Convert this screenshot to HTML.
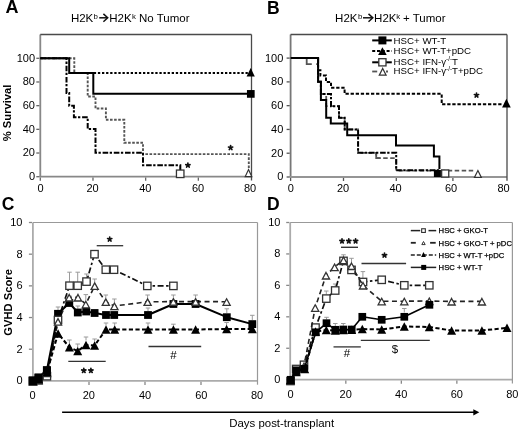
<!DOCTYPE html>
<html><head><meta charset="utf-8"><style>
html,body{margin:0;padding:0;background:#fff;width:520px;height:433px;overflow:hidden;}
svg text{font-family:"Liberation Sans", sans-serif;}
</style></head><body>
<svg width="520" height="433" viewBox="0 0 520 433" style="position:absolute;left:0;top:0;filter:grayscale(1)">
<rect width="520" height="433" fill="#fff"/>
<text x="5.60" y="12.80" font-size="18" font-weight="bold" text-anchor="start" fill="#000" >A</text>
<text x="267.00" y="14.20" font-size="17.5" font-weight="bold" text-anchor="start" fill="#000" >B</text>
<text x="1.70" y="209.80" font-size="17.5" font-weight="bold" text-anchor="start" fill="#000" >C</text>
<text x="267.00" y="210.20" font-size="17.5" font-weight="bold" text-anchor="start" fill="#000" >D</text>
<line x1="40.30" y1="34.50" x2="40.30" y2="176.70" stroke="#888" stroke-width="1.8"/>
<line x1="39.40" y1="176.70" x2="251.50" y2="176.70" stroke="#888" stroke-width="1.8"/>
<line x1="40.30" y1="34.50" x2="251.50" y2="34.50" stroke="#4a4a4a" stroke-width="1.3"/>
<line x1="251.50" y1="34.50" x2="251.50" y2="180.50" stroke="#4a4a4a" stroke-width="1.3"/>
<line x1="36.30" y1="176.70" x2="39.40" y2="176.70" stroke="#666" stroke-width="1.3"/>
<line x1="36.30" y1="153.02" x2="39.40" y2="153.02" stroke="#666" stroke-width="1.3"/>
<line x1="36.30" y1="129.34" x2="39.40" y2="129.34" stroke="#666" stroke-width="1.3"/>
<line x1="36.30" y1="105.66" x2="39.40" y2="105.66" stroke="#666" stroke-width="1.3"/>
<line x1="36.30" y1="81.98" x2="39.40" y2="81.98" stroke="#666" stroke-width="1.3"/>
<line x1="36.30" y1="58.30" x2="39.40" y2="58.30" stroke="#666" stroke-width="1.3"/>
<line x1="40.30" y1="177.60" x2="40.30" y2="180.70" stroke="#666" stroke-width="1.3"/>
<line x1="92.98" y1="177.60" x2="92.98" y2="180.70" stroke="#666" stroke-width="1.3"/>
<line x1="145.66" y1="177.60" x2="145.66" y2="180.70" stroke="#666" stroke-width="1.3"/>
<line x1="198.34" y1="177.60" x2="198.34" y2="180.70" stroke="#666" stroke-width="1.3"/>
<text x="40.50" y="191.80" font-size="11" font-weight="normal" text-anchor="middle" fill="#000" >0</text>
<text x="92.60" y="191.80" font-size="11" font-weight="normal" text-anchor="middle" fill="#000" >20</text>
<text x="145.30" y="191.80" font-size="11" font-weight="normal" text-anchor="middle" fill="#000" >40</text>
<text x="198.00" y="191.80" font-size="11" font-weight="normal" text-anchor="middle" fill="#000" >60</text>
<text x="250.00" y="191.80" font-size="11" font-weight="normal" text-anchor="middle" fill="#000" >80</text>
<text x="35.00" y="180.10" font-size="11" font-weight="normal" text-anchor="end" fill="#000" >0</text>
<text x="35.00" y="156.42" font-size="11" font-weight="normal" text-anchor="end" fill="#000" >20</text>
<text x="35.00" y="132.74" font-size="11" font-weight="normal" text-anchor="end" fill="#000" >40</text>
<text x="35.00" y="109.06" font-size="11" font-weight="normal" text-anchor="end" fill="#000" >60</text>
<text x="35.00" y="85.38" font-size="11" font-weight="normal" text-anchor="end" fill="#000" >80</text>
<text x="35.00" y="61.70" font-size="11" font-weight="normal" text-anchor="end" fill="#000" >100</text>
<path d="M40.3,58.3 H74.3 V73.1 H87.7 V96.5 H95.5 V108.5 H105.9 V119.8 H124.3 V142.7 H143 V154.1 H248.8 V168.5" fill="none" stroke="#555" stroke-width="1.9" stroke-dasharray="2.6 1.5" />
<path d="M40.3,58.3 H66.5 V93.1 H69.2 V105.8 H73.9 V117.3 H87.7 V128.9 H95.5 V152.8 H143 V165.3 H180.3 V170" fill="none" stroke="#000" stroke-width="2" stroke-dasharray="5.6 1.5 2.3 1.8" />
<path d="M69.2,73.1 H250" fill="none" stroke="#000" stroke-width="2" stroke-dasharray="2.3 1.8" />
<path d="M40.3,58.3 H69.2 V73.1 H93.3 V93.8 H250" fill="none" stroke="#000" stroke-width="2" />
<rect x="246.95" y="90.05" width="7.7" height="7.7" fill="#000"/>
<path d="M250.70,67.90 L254.80,76.50 L246.60,76.50 Z" fill="#000"/>
<rect x="176.45" y="170.05" width="7.50" height="7.50" fill="#fff" stroke="#333" stroke-width="1.3"/>
<path d="M248.50,169.60 L251.76,176.60 L245.24,176.60 Z" fill="#fff" stroke="#333" stroke-width="1.2" stroke-linejoin="miter"/>
<path d="M187.90,165.30 L187.90,163.10 M187.90,165.30 L189.99,164.62 M187.90,165.30 L189.19,167.08 M187.90,165.30 L186.61,167.08 M187.90,165.30 L185.81,164.62 " stroke="#111" stroke-width="1.7" stroke-linecap="round" fill="none"/>
<path d="M230.60,147.70 L230.60,145.50 M230.60,147.70 L232.69,147.02 M230.60,147.70 L231.89,149.48 M230.60,147.70 L229.31,149.48 M230.60,147.70 L228.51,147.02 " stroke="#111" stroke-width="1.7" stroke-linecap="round" fill="none"/>
<text x="70.90" y="21.60" font-size="11.5" font-weight="normal" text-anchor="start" fill="#000" >H2K</text>
<text x="93.50" y="18.90" font-size="7.8" font-weight="normal" text-anchor="start" fill="#000" >b</text>
<line x1="99.20" y1="17.80" x2="107.10" y2="17.80" stroke="#111" stroke-width="1.5"/>
<path d="M103.40,13.90 L107.70,17.80 L103.40,21.70" fill="none" stroke="#111" stroke-width="1.5" stroke-linejoin="miter"/>
<text x="109.30" y="21.60" font-size="11.5" font-weight="normal" text-anchor="start" fill="#000" >H2K</text>
<text x="131.90" y="18.90" font-size="7.8" font-weight="normal" text-anchor="start" fill="#000" >k</text>
<text x="139.00" y="21.60" font-size="11.5" font-weight="normal" text-anchor="start" fill="#000" >No Tumor</text>
<line x1="290.60" y1="34.50" x2="290.60" y2="177.00" stroke="#777" stroke-width="1.8"/>
<line x1="289.70" y1="177.00" x2="507.00" y2="177.00" stroke="#959595" stroke-width="1.8"/>
<line x1="290.60" y1="34.50" x2="507.00" y2="34.50" stroke="#4a4a4a" stroke-width="1.3"/>
<line x1="507.00" y1="34.50" x2="507.00" y2="180.80" stroke="#4a4a4a" stroke-width="1.3"/>
<line x1="286.60" y1="177.00" x2="289.70" y2="177.00" stroke="#555" stroke-width="1.3"/>
<line x1="286.60" y1="153.22" x2="289.70" y2="153.22" stroke="#555" stroke-width="1.3"/>
<line x1="286.60" y1="129.44" x2="289.70" y2="129.44" stroke="#555" stroke-width="1.3"/>
<line x1="286.60" y1="105.66" x2="289.70" y2="105.66" stroke="#555" stroke-width="1.3"/>
<line x1="286.60" y1="81.88" x2="289.70" y2="81.88" stroke="#555" stroke-width="1.3"/>
<line x1="286.60" y1="58.10" x2="289.70" y2="58.10" stroke="#555" stroke-width="1.3"/>
<line x1="290.60" y1="177.90" x2="290.60" y2="181.00" stroke="#555" stroke-width="1.3"/>
<line x1="343.50" y1="177.90" x2="343.50" y2="181.00" stroke="#555" stroke-width="1.3"/>
<line x1="396.30" y1="177.90" x2="396.30" y2="181.00" stroke="#555" stroke-width="1.3"/>
<line x1="452.90" y1="177.90" x2="452.90" y2="181.00" stroke="#555" stroke-width="1.3"/>
<text x="290.70" y="192.00" font-size="11" font-weight="normal" text-anchor="middle" fill="#000" >0</text>
<text x="343.00" y="192.00" font-size="11" font-weight="normal" text-anchor="middle" fill="#000" >20</text>
<text x="395.50" y="192.00" font-size="11" font-weight="normal" text-anchor="middle" fill="#000" >40</text>
<text x="451.10" y="192.00" font-size="11" font-weight="normal" text-anchor="middle" fill="#000" >60</text>
<text x="503.60" y="192.00" font-size="11" font-weight="normal" text-anchor="middle" fill="#000" >80</text>
<text x="283.30" y="180.40" font-size="11" font-weight="normal" text-anchor="end" fill="#000" >0</text>
<text x="283.30" y="156.62" font-size="11" font-weight="normal" text-anchor="end" fill="#000" >20</text>
<text x="283.30" y="132.84" font-size="11" font-weight="normal" text-anchor="end" fill="#000" >40</text>
<text x="283.30" y="109.06" font-size="11" font-weight="normal" text-anchor="end" fill="#000" >60</text>
<text x="283.30" y="85.28" font-size="11" font-weight="normal" text-anchor="end" fill="#000" >80</text>
<text x="283.30" y="61.50" font-size="11" font-weight="normal" text-anchor="end" fill="#000" >100</text>
<path d="M306.7,58 V64.1 H311.8" fill="none" stroke="#555" stroke-width="1.8" />
<path d="M376.2,153.5 V158.1 H380.5" fill="none" stroke="#555" stroke-width="1.8" />
<path d="M316.2,64.1 H318.1 V81.8 H320.9 V94 H326.2 V106.2 H339 V117.8 H344.7 V129.4 H358.1 V152.8 H376.2 V158.1 H396.2 V170.6 H473.8" fill="none" stroke="#555" stroke-width="1.8" stroke-dasharray="4.5 2.5" />
<path d="M318.1,58 V81.8 H320.9 V94 H331 V106.2 H339 V117.8 H344.7 V129.4 H358.1 V152.8 H396.2 V170.3 H441" fill="none" stroke="#000" stroke-width="2" stroke-dasharray="5.6 1.5 2.3 1.8" />
<path d="M318.1,70.2 H320.4 V75.6 H326 V81.9 H331 V87.8 H344.6 V93.8 H441.7 V104.3 H503" fill="none" stroke="#000" stroke-width="2" stroke-dasharray="3.3 1.8" />
<path d="M290.6,58 H318.1 V81.8 H320.9 V100 H326.2 V117.7 H330.8 V123.6 H347.2 V135.3 H396 V145.5 H433.9 V156.5 H439.4 V169" fill="none" stroke="#000" stroke-width="2" />
<rect x="433.90" y="170.00" width="7.0" height="7.0" fill="#000"/>
<rect x="441.65" y="169.95" width="7.10" height="7.10" fill="#fff" stroke="#333" stroke-width="1.3"/>
<path d="M477.90,170.55 L481.36,177.45 L474.44,177.45 Z" fill="#fff" stroke="#333" stroke-width="1.2" stroke-linejoin="miter"/>
<path d="M506.40,98.80 L510.75,107.40 L502.05,107.40 Z" fill="#000"/>
<path d="M476.50,95.20 L476.50,93.00 M476.50,95.20 L478.59,94.52 M476.50,95.20 L477.79,96.98 M476.50,95.20 L475.21,96.98 M476.50,95.20 L474.41,94.52 " stroke="#111" stroke-width="1.7" stroke-linecap="round" fill="none"/>
<text x="335.10" y="21.60" font-size="11.5" font-weight="normal" text-anchor="start" fill="#000" >H2K</text>
<text x="357.90" y="18.90" font-size="7.8" font-weight="normal" text-anchor="start" fill="#000" >b</text>
<line x1="363.00" y1="17.80" x2="372.20" y2="17.80" stroke="#111" stroke-width="1.5"/>
<path d="M368.50,13.90 L372.80,17.80 L368.50,21.70" fill="none" stroke="#111" stroke-width="1.5" stroke-linejoin="miter"/>
<text x="374.10" y="21.60" font-size="11.5" font-weight="normal" text-anchor="start" fill="#000" >H2K</text>
<text x="396.20" y="18.90" font-size="7.8" font-weight="normal" text-anchor="start" fill="#000" >k</text>
<text x="403.00" y="21.60" font-size="11.5" font-weight="normal" text-anchor="start" fill="#000" >+ Tumor</text>
<line x1="372.20" y1="40.40" x2="391.80" y2="40.40" stroke="#000" stroke-width="2"/>
<rect x="378.40" y="36.40" width="8.0" height="8.0" fill="#000"/>
<line x1="372.20" y1="51.10" x2="391.80" y2="51.10" stroke="#000" stroke-width="2" stroke-dasharray="3 1.8"/>
<path d="M382.40,47.30 L386.70,54.90 L378.10,54.90 Z" fill="#000"/>
<line x1="372.20" y1="62.30" x2="391.80" y2="62.30" stroke="#000" stroke-width="2"/>
<rect x="378.80" y="58.70" width="7.20" height="7.20" fill="#fff" stroke="#333" stroke-width="1.3"/>
<line x1="372.20" y1="71.50" x2="377.20" y2="71.50" stroke="#555" stroke-width="1.8"/>
<line x1="386.00" y1="71.50" x2="388.00" y2="71.50" stroke="#555" stroke-width="1.8"/>
<path d="M382.70,68.40 L386.11,75.20 L379.29,75.20 Z" fill="#fff" stroke="#333" stroke-width="1.2" stroke-linejoin="miter"/>
<text x="393.60" y="43.80" font-size="9.7" font-weight="normal" text-anchor="start" fill="#000" >HSC+ WT-T</text>
<text x="393.60" y="53.80" font-size="9.7" font-weight="normal" text-anchor="start" fill="#000" >HSC+ WT-T+pDC</text>
<text x="393.60" y="64.60" font-size="9.7" font-weight="normal" text-anchor="start" fill="#000" >HSC+ IFN-γ<tspan font-size="6.3" dy="-3.2">-/-</tspan><tspan dy="3.2">T</tspan></text>
<text x="393.60" y="74.40" font-size="9.7" font-weight="normal" text-anchor="start" fill="#000" >HSC+ IFN-γ<tspan font-size="6.3" dy="-3.2">-/-</tspan><tspan dy="3.2">T+pDC</tspan></text>
<line x1="32.90" y1="222.50" x2="32.90" y2="380.90" stroke="#ababab" stroke-width="1.8"/>
<line x1="32.00" y1="380.90" x2="257.50" y2="380.90" stroke="#ababab" stroke-width="1.8"/>
<line x1="32.90" y1="222.50" x2="257.50" y2="222.50" stroke="#999" stroke-width="1.2"/>
<line x1="257.50" y1="222.50" x2="257.50" y2="384.70" stroke="#999" stroke-width="1.2"/>
<line x1="28.90" y1="380.90" x2="32.00" y2="380.90" stroke="#888" stroke-width="1.3"/>
<line x1="28.90" y1="349.22" x2="32.00" y2="349.22" stroke="#888" stroke-width="1.3"/>
<line x1="28.90" y1="317.54" x2="32.00" y2="317.54" stroke="#888" stroke-width="1.3"/>
<line x1="28.90" y1="285.86" x2="32.00" y2="285.86" stroke="#888" stroke-width="1.3"/>
<line x1="28.90" y1="254.18" x2="32.00" y2="254.18" stroke="#888" stroke-width="1.3"/>
<line x1="28.90" y1="222.50" x2="32.00" y2="222.50" stroke="#888" stroke-width="1.3"/>
<line x1="33.00" y1="381.80" x2="33.00" y2="384.90" stroke="#888" stroke-width="1.3"/>
<line x1="89.00" y1="381.80" x2="89.00" y2="384.90" stroke="#888" stroke-width="1.3"/>
<line x1="145.00" y1="381.80" x2="145.00" y2="384.90" stroke="#888" stroke-width="1.3"/>
<line x1="201.00" y1="381.80" x2="201.00" y2="384.90" stroke="#888" stroke-width="1.3"/>
<text x="32.50" y="398.60" font-size="11" font-weight="normal" text-anchor="middle" fill="#000" >0</text>
<text x="88.80" y="398.60" font-size="11" font-weight="normal" text-anchor="middle" fill="#000" >20</text>
<text x="145.00" y="398.60" font-size="11" font-weight="normal" text-anchor="middle" fill="#000" >40</text>
<text x="201.30" y="398.60" font-size="11" font-weight="normal" text-anchor="middle" fill="#000" >60</text>
<text x="257.00" y="398.60" font-size="11" font-weight="normal" text-anchor="middle" fill="#000" >80</text>
<text x="22.50" y="384.30" font-size="11" font-weight="normal" text-anchor="end" fill="#000" >0</text>
<text x="22.50" y="352.62" font-size="11" font-weight="normal" text-anchor="end" fill="#000" >2</text>
<text x="22.50" y="320.94" font-size="11" font-weight="normal" text-anchor="end" fill="#000" >4</text>
<text x="22.50" y="289.26" font-size="11" font-weight="normal" text-anchor="end" fill="#000" >6</text>
<text x="22.50" y="257.58" font-size="11" font-weight="normal" text-anchor="end" fill="#000" >8</text>
<text x="22.50" y="225.90" font-size="11" font-weight="normal" text-anchor="end" fill="#000" >10</text>
<line x1="69.50" y1="282.00" x2="69.50" y2="272.20" stroke="#9a9a9a" stroke-width="1"/>
<line x1="67.25" y1="272.20" x2="71.75" y2="272.20" stroke="#9a9a9a" stroke-width="1"/>
<line x1="77.70" y1="282.00" x2="77.70" y2="272.20" stroke="#9a9a9a" stroke-width="1"/>
<line x1="75.45" y1="272.20" x2="79.95" y2="272.20" stroke="#9a9a9a" stroke-width="1"/>
<line x1="86.50" y1="278.00" x2="86.50" y2="274.00" stroke="#9a9a9a" stroke-width="1"/>
<line x1="84.25" y1="274.00" x2="88.75" y2="274.00" stroke="#9a9a9a" stroke-width="1"/>
<line x1="85.80" y1="300.50" x2="85.80" y2="294.60" stroke="#9a9a9a" stroke-width="1"/>
<line x1="83.55" y1="294.60" x2="88.05" y2="294.60" stroke="#9a9a9a" stroke-width="1"/>
<line x1="94.70" y1="282.00" x2="94.70" y2="279.00" stroke="#9a9a9a" stroke-width="1"/>
<line x1="92.45" y1="279.00" x2="96.95" y2="279.00" stroke="#9a9a9a" stroke-width="1"/>
<line x1="105.80" y1="298.00" x2="105.80" y2="295.00" stroke="#9a9a9a" stroke-width="1"/>
<line x1="103.55" y1="295.00" x2="108.05" y2="295.00" stroke="#9a9a9a" stroke-width="1"/>
<line x1="114.40" y1="302.00" x2="114.40" y2="299.00" stroke="#9a9a9a" stroke-width="1"/>
<line x1="112.15" y1="299.00" x2="116.65" y2="299.00" stroke="#9a9a9a" stroke-width="1"/>
<line x1="147.60" y1="298.00" x2="147.60" y2="295.00" stroke="#9a9a9a" stroke-width="1"/>
<line x1="145.35" y1="295.00" x2="149.85" y2="295.00" stroke="#9a9a9a" stroke-width="1"/>
<line x1="173.40" y1="297.50" x2="173.40" y2="295.00" stroke="#9a9a9a" stroke-width="1"/>
<line x1="171.15" y1="295.00" x2="175.65" y2="295.00" stroke="#9a9a9a" stroke-width="1"/>
<line x1="195.60" y1="297.50" x2="195.60" y2="295.00" stroke="#9a9a9a" stroke-width="1"/>
<line x1="193.35" y1="295.00" x2="197.85" y2="295.00" stroke="#9a9a9a" stroke-width="1"/>
<line x1="226.80" y1="313.00" x2="226.80" y2="308.80" stroke="#9a9a9a" stroke-width="1"/>
<line x1="224.55" y1="308.80" x2="229.05" y2="308.80" stroke="#9a9a9a" stroke-width="1"/>
<line x1="252.30" y1="320.00" x2="252.30" y2="315.30" stroke="#9a9a9a" stroke-width="1"/>
<line x1="250.05" y1="315.30" x2="254.55" y2="315.30" stroke="#9a9a9a" stroke-width="1"/>
<line x1="226.60" y1="325.00" x2="226.60" y2="322.50" stroke="#9a9a9a" stroke-width="1"/>
<line x1="224.35" y1="322.50" x2="228.85" y2="322.50" stroke="#9a9a9a" stroke-width="1"/>
<line x1="173.40" y1="325.40" x2="173.40" y2="324.20" stroke="#9a9a9a" stroke-width="1"/>
<line x1="171.15" y1="324.20" x2="175.65" y2="324.20" stroke="#9a9a9a" stroke-width="1"/>
<line x1="148.00" y1="325.40" x2="148.00" y2="323.00" stroke="#9a9a9a" stroke-width="1"/>
<line x1="145.75" y1="323.00" x2="150.25" y2="323.00" stroke="#9a9a9a" stroke-width="1"/>
<line x1="106.00" y1="325.50" x2="106.00" y2="323.00" stroke="#9a9a9a" stroke-width="1"/>
<line x1="103.75" y1="323.00" x2="108.25" y2="323.00" stroke="#9a9a9a" stroke-width="1"/>
<line x1="114.70" y1="325.50" x2="114.70" y2="323.00" stroke="#9a9a9a" stroke-width="1"/>
<line x1="112.45" y1="323.00" x2="116.95" y2="323.00" stroke="#9a9a9a" stroke-width="1"/>
<line x1="69.40" y1="343.00" x2="69.40" y2="340.00" stroke="#9a9a9a" stroke-width="1"/>
<line x1="67.15" y1="340.00" x2="71.65" y2="340.00" stroke="#9a9a9a" stroke-width="1"/>
<line x1="77.70" y1="347.00" x2="77.70" y2="344.00" stroke="#9a9a9a" stroke-width="1"/>
<line x1="75.45" y1="344.00" x2="79.95" y2="344.00" stroke="#9a9a9a" stroke-width="1"/>
<line x1="86.00" y1="340.50" x2="86.00" y2="337.00" stroke="#9a9a9a" stroke-width="1"/>
<line x1="83.75" y1="337.00" x2="88.25" y2="337.00" stroke="#9a9a9a" stroke-width="1"/>
<line x1="94.60" y1="341.50" x2="94.60" y2="339.00" stroke="#9a9a9a" stroke-width="1"/>
<line x1="92.35" y1="339.00" x2="96.85" y2="339.00" stroke="#9a9a9a" stroke-width="1"/>
<line x1="58.00" y1="310.00" x2="58.00" y2="307.00" stroke="#9a9a9a" stroke-width="1"/>
<line x1="55.75" y1="307.00" x2="60.25" y2="307.00" stroke="#9a9a9a" stroke-width="1"/>
<line x1="148.00" y1="311.00" x2="148.00" y2="308.00" stroke="#9a9a9a" stroke-width="1"/>
<line x1="145.75" y1="308.00" x2="150.25" y2="308.00" stroke="#9a9a9a" stroke-width="1"/>
<line x1="77.80" y1="308.70" x2="77.80" y2="306.00" stroke="#9a9a9a" stroke-width="1"/>
<line x1="75.55" y1="306.00" x2="80.05" y2="306.00" stroke="#9a9a9a" stroke-width="1"/>
<line x1="69.30" y1="299.20" x2="69.30" y2="296.00" stroke="#9a9a9a" stroke-width="1"/>
<line x1="67.05" y1="296.00" x2="71.55" y2="296.00" stroke="#9a9a9a" stroke-width="1"/>
<path d="M33.0,381.5 L38.6,380.0 L47.0,373.0 L58.0,321.6 L69.2,297.4 L78.0,297.4 L85.8,304.2 L94.7,285.8 L105.8,301.8 L114.4,306.0 L147.6,301.8 L173.4,301.6 L195.6,301.6 L226.6,301.7" fill="none" stroke="#222" stroke-width="1.6" stroke-dasharray="5 3.5" stroke-linejoin="round"/>
<path d="M33.0,381.0 L38.6,380.3 L46.9,376.2 L58.0,320.0 L69.5,285.7 L77.7,285.7 L86.5,281.6 L94.5,254.2 L105.8,269.7 L114.0,269.7 L147.3,285.9 L173.4,285.9" fill="none" stroke="#111" stroke-width="1.7" stroke-dasharray="6 2.5 2.5 2.5" stroke-linejoin="round"/>
<path d="M33.0,381.0 L38.6,379.0 L47.0,372.0 L58.1,333.5 L69.4,347.3 L77.7,351.0 L86.0,345.0 L94.6,345.5 L106.0,329.5 L114.7,329.5 L148.0,329.5 L173.4,329.5 L195.6,329.5 L226.6,329.0 L252.3,329.0" fill="none" stroke="#000" stroke-width="2" stroke-dasharray="4.2 2.4" stroke-linejoin="round"/>
<path d="M32.7,380.6 L38.5,377.6 L46.9,370.3 L58.0,313.8 L69.3,303.0 L77.8,312.5 L86.2,311.5 L94.6,313.0 L106.0,315.0 L114.2,315.0 L148.0,315.0 L173.4,304.0 L195.6,304.0 L226.8,317.2 L252.3,324.1" fill="none" stroke="#000" stroke-width="2" stroke-linejoin="round"/>
<rect x="28.80" y="376.70" width="7.8" height="7.8" fill="#000"/>
<rect x="34.60" y="373.70" width="7.8" height="7.8" fill="#000"/>
<rect x="43.00" y="366.40" width="7.8" height="7.8" fill="#000"/>
<rect x="54.10" y="309.90" width="7.8" height="7.8" fill="#000"/>
<rect x="65.40" y="299.10" width="7.8" height="7.8" fill="#000"/>
<rect x="73.90" y="308.60" width="7.8" height="7.8" fill="#000"/>
<rect x="82.30" y="307.60" width="7.8" height="7.8" fill="#000"/>
<rect x="90.70" y="309.10" width="7.8" height="7.8" fill="#000"/>
<rect x="102.10" y="311.10" width="7.8" height="7.8" fill="#000"/>
<rect x="110.30" y="311.10" width="7.8" height="7.8" fill="#000"/>
<rect x="144.10" y="311.10" width="7.8" height="7.8" fill="#000"/>
<rect x="169.50" y="300.10" width="7.8" height="7.8" fill="#000"/>
<rect x="191.70" y="300.10" width="7.8" height="7.8" fill="#000"/>
<rect x="222.90" y="313.30" width="7.8" height="7.8" fill="#000"/>
<rect x="248.40" y="320.20" width="7.8" height="7.8" fill="#000"/>
<rect x="29.30" y="377.30" width="7.40" height="7.40" fill="#fff" stroke="#333" stroke-width="1.3"/>
<rect x="34.90" y="376.60" width="7.40" height="7.40" fill="#fff" stroke="#333" stroke-width="1.3"/>
<rect x="43.20" y="372.50" width="7.40" height="7.40" fill="#fff" stroke="#333" stroke-width="1.3"/>
<rect x="54.30" y="316.30" width="7.40" height="7.40" fill="#fff" stroke="#333" stroke-width="1.3"/>
<rect x="65.80" y="282.00" width="7.40" height="7.40" fill="#fff" stroke="#333" stroke-width="1.3"/>
<rect x="74.00" y="282.00" width="7.40" height="7.40" fill="#fff" stroke="#333" stroke-width="1.3"/>
<rect x="82.80" y="277.90" width="7.40" height="7.40" fill="#fff" stroke="#333" stroke-width="1.3"/>
<rect x="90.80" y="250.50" width="7.40" height="7.40" fill="#fff" stroke="#333" stroke-width="1.3"/>
<rect x="102.10" y="266.00" width="7.40" height="7.40" fill="#fff" stroke="#333" stroke-width="1.3"/>
<rect x="110.30" y="266.00" width="7.40" height="7.40" fill="#fff" stroke="#333" stroke-width="1.3"/>
<rect x="143.60" y="282.20" width="7.40" height="7.40" fill="#fff" stroke="#333" stroke-width="1.3"/>
<rect x="169.70" y="282.20" width="7.40" height="7.40" fill="#fff" stroke="#333" stroke-width="1.3"/>
<path d="M33.00,378.55 L36.59,385.10 L29.41,385.10 Z" fill="#fff" stroke="#333" stroke-width="1.3" stroke-linejoin="miter"/>
<path d="M38.60,377.05 L42.19,383.60 L35.01,383.60 Z" fill="#fff" stroke="#333" stroke-width="1.3" stroke-linejoin="miter"/>
<path d="M47.00,370.05 L50.59,376.60 L43.41,376.60 Z" fill="#fff" stroke="#333" stroke-width="1.3" stroke-linejoin="miter"/>
<path d="M58.00,318.65 L61.59,325.20 L54.41,325.20 Z" fill="#fff" stroke="#333" stroke-width="1.3" stroke-linejoin="miter"/>
<path d="M69.20,294.45 L72.79,301.00 L65.61,301.00 Z" fill="#fff" stroke="#333" stroke-width="1.3" stroke-linejoin="miter"/>
<path d="M78.00,294.45 L81.59,301.00 L74.41,301.00 Z" fill="#fff" stroke="#333" stroke-width="1.3" stroke-linejoin="miter"/>
<path d="M85.80,301.25 L89.39,307.80 L82.21,307.80 Z" fill="#fff" stroke="#333" stroke-width="1.3" stroke-linejoin="miter"/>
<path d="M94.70,282.85 L98.29,289.40 L91.11,289.40 Z" fill="#fff" stroke="#333" stroke-width="1.3" stroke-linejoin="miter"/>
<path d="M105.80,298.85 L109.39,305.40 L102.21,305.40 Z" fill="#fff" stroke="#333" stroke-width="1.3" stroke-linejoin="miter"/>
<path d="M114.40,303.05 L117.99,309.60 L110.81,309.60 Z" fill="#fff" stroke="#333" stroke-width="1.3" stroke-linejoin="miter"/>
<path d="M147.60,298.85 L151.19,305.40 L144.01,305.40 Z" fill="#fff" stroke="#333" stroke-width="1.3" stroke-linejoin="miter"/>
<path d="M173.40,298.65 L176.99,305.20 L169.81,305.20 Z" fill="#fff" stroke="#333" stroke-width="1.3" stroke-linejoin="miter"/>
<path d="M195.60,298.65 L199.19,305.20 L192.01,305.20 Z" fill="#fff" stroke="#333" stroke-width="1.3" stroke-linejoin="miter"/>
<path d="M226.60,298.75 L230.19,305.30 L223.01,305.30 Z" fill="#fff" stroke="#333" stroke-width="1.3" stroke-linejoin="miter"/>
<path d="M33.00,376.75 L37.50,385.25 L28.50,385.25 Z" fill="#000"/>
<path d="M38.60,374.75 L43.10,383.25 L34.10,383.25 Z" fill="#000"/>
<path d="M47.00,367.75 L51.50,376.25 L42.50,376.25 Z" fill="#000"/>
<path d="M58.10,329.25 L62.60,337.75 L53.60,337.75 Z" fill="#000"/>
<path d="M69.40,343.05 L73.90,351.55 L64.90,351.55 Z" fill="#000"/>
<path d="M77.70,346.75 L82.20,355.25 L73.20,355.25 Z" fill="#000"/>
<path d="M86.00,340.75 L90.50,349.25 L81.50,349.25 Z" fill="#000"/>
<path d="M94.60,341.25 L99.10,349.75 L90.10,349.75 Z" fill="#000"/>
<path d="M106.00,325.25 L110.50,333.75 L101.50,333.75 Z" fill="#000"/>
<path d="M114.70,325.25 L119.20,333.75 L110.20,333.75 Z" fill="#000"/>
<path d="M148.00,325.25 L152.50,333.75 L143.50,333.75 Z" fill="#000"/>
<path d="M173.40,325.25 L177.90,333.75 L168.90,333.75 Z" fill="#000"/>
<path d="M195.60,325.25 L200.10,333.75 L191.10,333.75 Z" fill="#000"/>
<path d="M226.60,324.75 L231.10,333.25 L222.10,333.25 Z" fill="#000"/>
<path d="M252.30,324.75 L256.80,333.25 L247.80,333.25 Z" fill="#000"/>
<rect x="28.70" y="376.60" width="8.0" height="8.0" fill="#000"/>
<rect x="34.50" y="373.60" width="8.0" height="8.0" fill="#000"/>
<rect x="42.90" y="366.30" width="8.0" height="8.0" fill="#000"/>
<path d="M109.70,239.20 L109.70,237.00 M109.70,239.20 L111.79,238.52 M109.70,239.20 L110.99,240.98 M109.70,239.20 L108.41,240.98 M109.70,239.20 L107.61,238.52 " stroke="#111" stroke-width="1.7" stroke-linecap="round" fill="none"/>
<line x1="96.70" y1="245.70" x2="123.20" y2="245.70" stroke="#333" stroke-width="1.3"/>
<path d="M83.80,370.60 L83.80,368.40 M83.80,370.60 L85.89,369.92 M83.80,370.60 L85.09,372.38 M83.80,370.60 L82.51,372.38 M83.80,370.60 L81.71,369.92 " stroke="#111" stroke-width="1.7" stroke-linecap="round" fill="none"/>
<path d="M90.90,370.60 L90.90,368.40 M90.90,370.60 L92.99,369.92 M90.90,370.60 L92.19,372.38 M90.90,370.60 L89.61,372.38 M90.90,370.60 L88.81,369.92 " stroke="#111" stroke-width="1.7" stroke-linecap="round" fill="none"/>
<line x1="68.30" y1="361.30" x2="105.70" y2="361.30" stroke="#333" stroke-width="1.3"/>
<text x="173.40" y="359.40" font-size="11.5" font-weight="normal" text-anchor="middle" fill="#000" >#</text>
<line x1="148.50" y1="346.50" x2="201.20" y2="346.50" stroke="#333" stroke-width="1.3"/>
<line x1="290.20" y1="222.50" x2="290.20" y2="379.70" stroke="#ababab" stroke-width="1.8"/>
<line x1="289.30" y1="379.70" x2="512.40" y2="379.70" stroke="#ababab" stroke-width="1.8"/>
<line x1="290.20" y1="222.50" x2="512.40" y2="222.50" stroke="#999" stroke-width="1.2"/>
<line x1="512.40" y1="222.50" x2="512.40" y2="383.50" stroke="#999" stroke-width="1.2"/>
<line x1="286.20" y1="379.70" x2="289.30" y2="379.70" stroke="#888" stroke-width="1.3"/>
<line x1="286.20" y1="348.26" x2="289.30" y2="348.26" stroke="#888" stroke-width="1.3"/>
<line x1="286.20" y1="316.82" x2="289.30" y2="316.82" stroke="#888" stroke-width="1.3"/>
<line x1="286.20" y1="285.38" x2="289.30" y2="285.38" stroke="#888" stroke-width="1.3"/>
<line x1="286.20" y1="253.94" x2="289.30" y2="253.94" stroke="#888" stroke-width="1.3"/>
<line x1="286.20" y1="222.50" x2="289.30" y2="222.50" stroke="#888" stroke-width="1.3"/>
<line x1="290.30" y1="380.60" x2="290.30" y2="383.70" stroke="#888" stroke-width="1.3"/>
<line x1="345.82" y1="380.60" x2="345.82" y2="383.70" stroke="#888" stroke-width="1.3"/>
<line x1="401.34" y1="380.60" x2="401.34" y2="383.70" stroke="#888" stroke-width="1.3"/>
<line x1="456.86" y1="380.60" x2="456.86" y2="383.70" stroke="#888" stroke-width="1.3"/>
<text x="290.50" y="397.80" font-size="11" font-weight="normal" text-anchor="middle" fill="#000" >0</text>
<text x="345.70" y="397.80" font-size="11" font-weight="normal" text-anchor="middle" fill="#000" >20</text>
<text x="401.20" y="397.80" font-size="11" font-weight="normal" text-anchor="middle" fill="#000" >40</text>
<text x="456.80" y="397.80" font-size="11" font-weight="normal" text-anchor="middle" fill="#000" >60</text>
<text x="512.30" y="397.80" font-size="11" font-weight="normal" text-anchor="middle" fill="#000" >80</text>
<text x="280.40" y="383.10" font-size="11" font-weight="normal" text-anchor="end" fill="#000" >0</text>
<text x="280.40" y="351.66" font-size="11" font-weight="normal" text-anchor="end" fill="#000" >2</text>
<text x="280.40" y="320.22" font-size="11" font-weight="normal" text-anchor="end" fill="#000" >4</text>
<text x="280.40" y="288.78" font-size="11" font-weight="normal" text-anchor="end" fill="#000" >6</text>
<text x="280.40" y="257.34" font-size="11" font-weight="normal" text-anchor="end" fill="#000" >8</text>
<text x="280.40" y="225.90" font-size="11" font-weight="normal" text-anchor="end" fill="#000" >10</text>
<line x1="343.50" y1="256.00" x2="343.50" y2="254.80" stroke="#9a9a9a" stroke-width="1"/>
<line x1="341.25" y1="254.80" x2="345.75" y2="254.80" stroke="#9a9a9a" stroke-width="1"/>
<line x1="351.50" y1="262.00" x2="351.50" y2="258.30" stroke="#9a9a9a" stroke-width="1"/>
<line x1="349.25" y1="258.30" x2="353.75" y2="258.30" stroke="#9a9a9a" stroke-width="1"/>
<line x1="362.90" y1="278.50" x2="362.90" y2="271.60" stroke="#9a9a9a" stroke-width="1"/>
<line x1="360.65" y1="271.60" x2="365.15" y2="271.60" stroke="#9a9a9a" stroke-width="1"/>
<line x1="326.30" y1="294.50" x2="326.30" y2="291.00" stroke="#9a9a9a" stroke-width="1"/>
<line x1="324.05" y1="291.00" x2="328.55" y2="291.00" stroke="#9a9a9a" stroke-width="1"/>
<line x1="335.20" y1="286.50" x2="335.20" y2="284.00" stroke="#9a9a9a" stroke-width="1"/>
<line x1="332.95" y1="284.00" x2="337.45" y2="284.00" stroke="#9a9a9a" stroke-width="1"/>
<line x1="404.30" y1="312.50" x2="404.30" y2="308.50" stroke="#9a9a9a" stroke-width="1"/>
<line x1="402.05" y1="308.50" x2="406.55" y2="308.50" stroke="#9a9a9a" stroke-width="1"/>
<line x1="315.80" y1="328.50" x2="315.80" y2="325.00" stroke="#9a9a9a" stroke-width="1"/>
<line x1="313.55" y1="325.00" x2="318.05" y2="325.00" stroke="#9a9a9a" stroke-width="1"/>
<line x1="326.50" y1="319.50" x2="326.50" y2="317.30" stroke="#9a9a9a" stroke-width="1"/>
<line x1="324.25" y1="317.30" x2="328.75" y2="317.30" stroke="#9a9a9a" stroke-width="1"/>
<line x1="343.30" y1="325.70" x2="343.30" y2="323.50" stroke="#9a9a9a" stroke-width="1"/>
<line x1="341.05" y1="323.50" x2="345.55" y2="323.50" stroke="#9a9a9a" stroke-width="1"/>
<line x1="335.30" y1="326.00" x2="335.30" y2="323.50" stroke="#9a9a9a" stroke-width="1"/>
<line x1="333.05" y1="323.50" x2="337.55" y2="323.50" stroke="#9a9a9a" stroke-width="1"/>
<path d="M290.5,381.0 L296.2,369.0 L304.0,364.8 L315.5,327.6 L326.3,298.6 L335.2,290.5 L343.5,260.9 L351.5,269.9 L363.0,282.0 L381.7,279.8 L404.3,285.3 L429.3,285.3" fill="none" stroke="#111" stroke-width="1.7" stroke-dasharray="6 2.5 2.5 2.5" stroke-linejoin="round"/>
<rect x="286.80" y="377.30" width="7.40" height="7.40" fill="#fff" stroke="#333" stroke-width="1.3"/>
<rect x="292.50" y="365.30" width="7.40" height="7.40" fill="#fff" stroke="#333" stroke-width="1.3"/>
<rect x="300.30" y="361.10" width="7.40" height="7.40" fill="#fff" stroke="#333" stroke-width="1.3"/>
<rect x="311.80" y="323.90" width="7.40" height="7.40" fill="#fff" stroke="#333" stroke-width="1.3"/>
<rect x="322.60" y="294.90" width="7.40" height="7.40" fill="#fff" stroke="#333" stroke-width="1.3"/>
<rect x="331.50" y="286.80" width="7.40" height="7.40" fill="#fff" stroke="#333" stroke-width="1.3"/>
<rect x="339.80" y="257.20" width="7.40" height="7.40" fill="#fff" stroke="#333" stroke-width="1.3"/>
<rect x="347.80" y="266.20" width="7.40" height="7.40" fill="#fff" stroke="#333" stroke-width="1.3"/>
<rect x="359.30" y="278.30" width="7.40" height="7.40" fill="#fff" stroke="#333" stroke-width="1.3"/>
<rect x="378.00" y="276.10" width="7.40" height="7.40" fill="#fff" stroke="#333" stroke-width="1.3"/>
<rect x="400.60" y="281.60" width="7.40" height="7.40" fill="#fff" stroke="#333" stroke-width="1.3"/>
<rect x="425.60" y="281.60" width="7.40" height="7.40" fill="#fff" stroke="#333" stroke-width="1.3"/>
<path d="M290.5,380.0 L296.2,371.0 L304.0,366.0 L315.2,307.7 L326.0,275.4 L334.6,267.0 L343.5,260.0 L351.5,265.9 L363.0,285.4 L381.7,301.2 L404.3,301.2 L429.3,301.0 L451.6,301.4 L481.9,301.4" fill="none" stroke="#222" stroke-width="1.6" stroke-dasharray="5 3.5" stroke-linejoin="round"/>
<path d="M290.50,377.05 L294.09,383.60 L286.91,383.60 Z" fill="#fff" stroke="#333" stroke-width="1.3" stroke-linejoin="miter"/>
<path d="M296.20,368.05 L299.79,374.60 L292.61,374.60 Z" fill="#fff" stroke="#333" stroke-width="1.3" stroke-linejoin="miter"/>
<path d="M304.00,363.05 L307.59,369.60 L300.41,369.60 Z" fill="#fff" stroke="#333" stroke-width="1.3" stroke-linejoin="miter"/>
<path d="M315.20,304.75 L318.79,311.30 L311.61,311.30 Z" fill="#fff" stroke="#333" stroke-width="1.3" stroke-linejoin="miter"/>
<path d="M326.00,272.45 L329.59,279.00 L322.41,279.00 Z" fill="#fff" stroke="#333" stroke-width="1.3" stroke-linejoin="miter"/>
<path d="M334.60,264.05 L338.19,270.60 L331.01,270.60 Z" fill="#fff" stroke="#333" stroke-width="1.3" stroke-linejoin="miter"/>
<path d="M343.50,257.05 L347.09,263.60 L339.91,263.60 Z" fill="#fff" stroke="#333" stroke-width="1.3" stroke-linejoin="miter"/>
<path d="M351.50,262.95 L355.09,269.50 L347.91,269.50 Z" fill="#fff" stroke="#333" stroke-width="1.3" stroke-linejoin="miter"/>
<path d="M363.00,282.45 L366.59,289.00 L359.41,289.00 Z" fill="#fff" stroke="#333" stroke-width="1.3" stroke-linejoin="miter"/>
<path d="M381.70,298.25 L385.29,304.80 L378.11,304.80 Z" fill="#fff" stroke="#333" stroke-width="1.3" stroke-linejoin="miter"/>
<path d="M404.30,298.25 L407.89,304.80 L400.71,304.80 Z" fill="#fff" stroke="#333" stroke-width="1.3" stroke-linejoin="miter"/>
<path d="M429.30,298.05 L432.89,304.60 L425.71,304.60 Z" fill="#fff" stroke="#333" stroke-width="1.3" stroke-linejoin="miter"/>
<path d="M451.60,298.45 L455.19,305.00 L448.01,305.00 Z" fill="#fff" stroke="#333" stroke-width="1.3" stroke-linejoin="miter"/>
<path d="M481.90,298.45 L485.49,305.00 L478.31,305.00 Z" fill="#fff" stroke="#333" stroke-width="1.3" stroke-linejoin="miter"/>
<path d="M290.5,380.0 L296.2,372.0 L304.7,369.0 L315.5,331.5 L326.3,330.0 L335.3,330.5 L343.3,330.0 L351.7,329.8 L362.3,329.0 L381.7,329.5 L404.3,326.5 L429.3,327.0 L451.6,330.5 L481.9,330.5 L507.0,327.8" fill="none" stroke="#000" stroke-width="2" stroke-dasharray="4.2 2.4" stroke-linejoin="round"/>
<path d="M290.50,375.75 L295.00,384.25 L286.00,384.25 Z" fill="#000"/>
<path d="M296.20,367.75 L300.70,376.25 L291.70,376.25 Z" fill="#000"/>
<path d="M304.70,364.75 L309.20,373.25 L300.20,373.25 Z" fill="#000"/>
<path d="M315.50,327.25 L320.00,335.75 L311.00,335.75 Z" fill="#000"/>
<path d="M326.30,325.75 L330.80,334.25 L321.80,334.25 Z" fill="#000"/>
<path d="M335.30,326.25 L339.80,334.75 L330.80,334.75 Z" fill="#000"/>
<path d="M343.30,325.75 L347.80,334.25 L338.80,334.25 Z" fill="#000"/>
<path d="M351.70,325.55 L356.20,334.05 L347.20,334.05 Z" fill="#000"/>
<path d="M362.30,324.75 L366.80,333.25 L357.80,333.25 Z" fill="#000"/>
<path d="M381.70,325.25 L386.20,333.75 L377.20,333.75 Z" fill="#000"/>
<path d="M404.30,322.25 L408.80,330.75 L399.80,330.75 Z" fill="#000"/>
<path d="M429.30,322.75 L433.80,331.25 L424.80,331.25 Z" fill="#000"/>
<path d="M451.60,326.25 L456.10,334.75 L447.10,334.75 Z" fill="#000"/>
<path d="M481.90,326.25 L486.40,334.75 L477.40,334.75 Z" fill="#000"/>
<path d="M507.00,323.55 L511.50,332.05 L502.50,332.05 Z" fill="#000"/>
<path d="M290.9,379.8 L296.2,370.3 L304.2,368.8 L315.8,332.3 L326.5,323.2 L335.3,329.8 L343.3,329.5 L351.7,329.5 L362.3,316.8 L381.7,319.8 L404.3,316.8 L429.4,304.8" fill="none" stroke="#000" stroke-width="1.6" stroke-linejoin="round"/>
<rect x="287.00" y="375.95" width="7.7" height="7.7" fill="#000"/>
<rect x="292.35" y="366.45" width="7.7" height="7.7" fill="#000"/>
<rect x="300.35" y="364.95" width="7.7" height="7.7" fill="#000"/>
<rect x="311.95" y="328.45" width="7.7" height="7.7" fill="#000"/>
<rect x="322.65" y="319.35" width="7.7" height="7.7" fill="#000"/>
<rect x="331.45" y="325.95" width="7.7" height="7.7" fill="#000"/>
<rect x="339.45" y="325.65" width="7.7" height="7.7" fill="#000"/>
<rect x="347.85" y="325.65" width="7.7" height="7.7" fill="#000"/>
<rect x="358.45" y="312.95" width="7.7" height="7.7" fill="#000"/>
<rect x="377.85" y="315.95" width="7.7" height="7.7" fill="#000"/>
<rect x="400.45" y="312.95" width="7.7" height="7.7" fill="#000"/>
<rect x="425.55" y="300.95" width="7.7" height="7.7" fill="#000"/>
<path d="M342.00,241.10 L342.00,238.90 M342.00,241.10 L344.09,240.42 M342.00,241.10 L343.29,242.88 M342.00,241.10 L340.71,242.88 M342.00,241.10 L339.91,240.42 " stroke="#111" stroke-width="1.7" stroke-linecap="round" fill="none"/>
<path d="M348.80,241.10 L348.80,238.90 M348.80,241.10 L350.89,240.42 M348.80,241.10 L350.09,242.88 M348.80,241.10 L347.51,242.88 M348.80,241.10 L346.71,240.42 " stroke="#111" stroke-width="1.7" stroke-linecap="round" fill="none"/>
<path d="M355.60,241.10 L355.60,238.90 M355.60,241.10 L357.69,240.42 M355.60,241.10 L356.89,242.88 M355.60,241.10 L354.31,242.88 M355.60,241.10 L353.51,240.42 " stroke="#111" stroke-width="1.7" stroke-linecap="round" fill="none"/>
<line x1="341.00" y1="247.30" x2="358.00" y2="247.30" stroke="#333" stroke-width="1.4"/>
<path d="M384.50,255.30 L384.50,253.10 M384.50,255.30 L386.59,254.62 M384.50,255.30 L385.79,257.08 M384.50,255.30 L383.21,257.08 M384.50,255.30 L382.41,254.62 " stroke="#111" stroke-width="1.7" stroke-linecap="round" fill="none"/>
<line x1="361.50" y1="263.50" x2="406.10" y2="263.50" stroke="#333" stroke-width="1.3"/>
<text x="346.90" y="357.00" font-size="11.5" font-weight="normal" text-anchor="middle" fill="#000" >#</text>
<line x1="333.50" y1="346.90" x2="360.80" y2="346.90" stroke="#333" stroke-width="1.3"/>
<text x="394.90" y="353.30" font-size="11.5" font-weight="normal" text-anchor="middle" fill="#000" >$</text>
<line x1="360.80" y1="340.30" x2="429.80" y2="340.30" stroke="#333" stroke-width="1.3"/>
<line x1="410.80" y1="230.60" x2="420.20" y2="230.60" stroke="#222" stroke-width="1.5"/>
<line x1="428.50" y1="230.60" x2="436.20" y2="230.60" stroke="#222" stroke-width="1.5"/>
<rect x="421.65" y="228.75" width="3.70" height="3.70" fill="#fff" stroke="#333" stroke-width="1.1"/>
<line x1="410.80" y1="242.80" x2="415.80" y2="242.80" stroke="#222" stroke-width="1.8"/>
<line x1="430.10" y1="242.80" x2="435.70" y2="242.80" stroke="#222" stroke-width="1.8"/>
<path d="M423.50,241.50 L425.20,244.60 L421.80,244.60 Z" fill="#fff" stroke="#333" stroke-width="1.0" stroke-linejoin="miter"/>
<line x1="410.80" y1="255.00" x2="436.20" y2="255.00" stroke="#222" stroke-width="1.6" stroke-dasharray="4 2"/>
<path d="M423.50,252.10 L425.90,256.90 L421.10,256.90 Z" fill="#000"/>
<line x1="410.80" y1="267.40" x2="436.20" y2="267.40" stroke="#222" stroke-width="1.5"/>
<rect x="421.20" y="264.90" width="5.0" height="5.0" fill="#000"/>
<text x="438.60" y="233.40" font-size="7.7" font-weight="normal" text-anchor="start" fill="#000" stroke="#000" stroke-width="0.25">HSC + GKO-T</text>
<text x="438.60" y="245.60" font-size="7.7" font-weight="normal" text-anchor="start" fill="#000" stroke="#000" stroke-width="0.25">HSC + GKO-T + pDC</text>
<text x="438.60" y="257.80" font-size="7.7" font-weight="normal" text-anchor="start" fill="#000" stroke="#000" stroke-width="0.25">HSC + WT-T +pDC</text>
<text x="438.60" y="270.20" font-size="7.7" font-weight="normal" text-anchor="start" fill="#000" stroke="#000" stroke-width="0.25">HSC + WT-T</text>
<text transform="translate(10.6,112.9) rotate(-90)" font-size="11.2" font-weight="bold" text-anchor="middle">% Survival</text>
<text transform="translate(11.6,302.4) rotate(-90)" font-size="11.2" font-weight="bold" text-anchor="middle">GVHD Score</text>
<line x1="62.10" y1="412.30" x2="474.00" y2="412.30" stroke="#000" stroke-width="1.6"/>
<path d="M473.3,409.2 L479.3,412.3 L473.3,415.4 Z" fill="#000"/>
<text x="229.20" y="427.30" font-size="11.45" font-weight="normal" text-anchor="start" fill="#000" >Days post-transplant</text>
</svg>
</body></html>
